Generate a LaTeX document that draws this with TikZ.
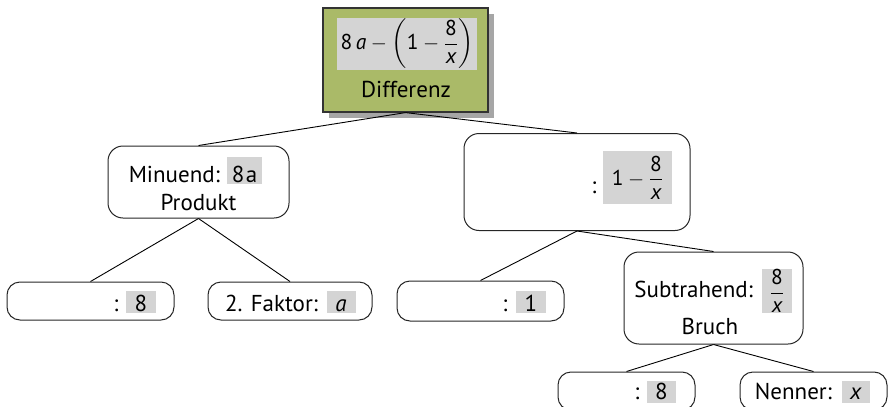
\documentclass[tikz,border=0pt]{standalone}
\usepackage{amsmath}
\usepackage{fontspec}
\setmainfont{PT Sans}
\definecolor{topgreen}{RGB}{170,186,104}
\definecolor{hlgray}{RGB}{212,212,212}
\definecolor{shadowgray}{RGB}{166,166,166}
\tikzset{
  box/.style={draw=black!85, line width=1pt, rounded corners=14pt, inner sep=0pt},
  topbox/.style={draw=black!80, line width=1.2pt, fill=topgreen, inner sep=0pt},
  hl/.style={fill=hlgray, inner sep=0pt, font=\fontsize{23}{26}\selectfont},
  mhl/.style={fill=hlgray, inner sep=0pt, font=\fontsize{21.5}{26}\selectfont},
  txt/.style={inner sep=0pt, font=\fontsize{23}{26}\selectfont},
  conn/.style={draw=black, line width=0.9pt}
}
\begin{document}
\begin{tikzpicture}[x=1pt,y=-1pt]
\useasboundingbox (0,0) rectangle (892,407);
% top box with shadow
\fill[shadowgray] (329,14) rectangle (494,118);
\node[topbox, minimum width=165pt, minimum height=104pt] (top) at (405.5,60) {};
\node[mhl, minimum width=140pt, minimum height=52pt] (tophl) at (407,44)
  {\ensuremath{\text{8}\,\textit{a} - \left(\text{1} - \dfrac{\text{8}}{\textit{x}}\right)}};
\node[txt, anchor=base] (toplbl) at (406,97.5) {Differenz};
% level 1
\node[box, rounded corners=15pt, minimum width=181pt, minimum height=72pt] (minu) at (198.5,182) {};
\node[box, rounded corners=15pt, minimum width=226pt, minimum height=97pt] (right) at (577,182) {};
% level 2
\node[box, rounded corners=13pt, minimum width=167pt, minimum height=38pt] (bl1) at (90.5,301) {};
\node[box, rounded corners=13pt, minimum width=164pt, minimum height=38pt] (bl2) at (290,301) {};
\node[box, rounded corners=13pt, minimum width=167pt, minimum height=40pt] (r1) at (480.5,301) {};
\node[box, rounded corners=15pt, minimum width=179pt, minimum height=92pt] (sub) at (713.5,298) {};
% level 3
\node[box, rounded corners=13pt, minimum width=137pt, minimum height=38pt] (bb1) at (626.5,391) {};
\node[box, rounded corners=13pt, minimum width=147pt, minimum height=38pt] (bb2) at (813.5,391) {};
% connectors
\draw[conn] (top.south) -- (minu.north);
\draw[conn] (top.south) -- (right.north);
\draw[conn] (minu.south) -- (bl1.north);
\draw[conn] (minu.south) -- (bl2.north);
\draw[conn] (right.south) -- (r1.north);
\draw[conn] (right.south) -- (sub.north);
\draw[conn] (sub.south) -- (bb1.north);
\draw[conn] (sub.south) -- (bb2.north);
% texts: Minuend
\node[txt, anchor=base east] (minut) at (220,182.5) {Minuend:};
\node[hl, anchor=base, text height=25.5pt, text depth=1pt, minimum width=35pt] (minuhl) at (244.5,182.5) {8\kern1.5pt a};
\node[txt, anchor=base] (minup) at (198.5,210) {Produkt};
% right box
\node[txt, anchor=base] (rcol) at (594,193) {:};
\node[mhl, minimum width=69pt, minimum height=53pt] (rhl) at (637.5,177.5)
  {\ensuremath{\text{1} - \dfrac{\text{8}}{\textit{x}}}};
% bl1
\node[txt, anchor=base] (bl1c) at (116,311.7) {:};
\node[hl, anchor=base, text height=21pt, text depth=1.6pt, minimum width=30pt] (bl1hl) at (141,311.7) {8};
% bl2
\node[txt, anchor=base west] (bl2t) at (225,311.7) {2. Faktor:};
\node[hl, anchor=base, text height=21pt, text depth=1.6pt, minimum width=29pt] (bl2hl) at (341,311.7) {\textit{a}};
% r1
\node[txt, anchor=base] (r1c) at (505,311.7) {:};
\node[hl, anchor=base, text height=21pt, text depth=1.6pt, minimum width=30pt] (r1hl) at (531,311.7) {1};
% sub
\node[txt, anchor=base east] (subt) at (753,297) {Subtrahend:};
\node[mhl, minimum width=30pt, minimum height=42pt] (subhl) at (777,291)
  {\ensuremath{\dfrac{\text{8}}{\textit{x}}}};
\node[txt, anchor=base] (subb) at (710,334) {Bruch};
% bb1
\node[txt, anchor=base] (bb1c) at (637,399.5) {:};
\node[hl, anchor=base, text height=19pt, text depth=3pt, minimum width=29pt] (bb1hl) at (661.5,399.5) {8};
% bb2
\node[txt, anchor=base east] (bb2t) at (832,399.5) {Nenner:};
\node[hl, anchor=base, text height=19pt, text depth=3pt, minimum width=28pt] (bb2hl) at (856,399.5) {\textit{x}};
\end{tikzpicture}
\end{document}
